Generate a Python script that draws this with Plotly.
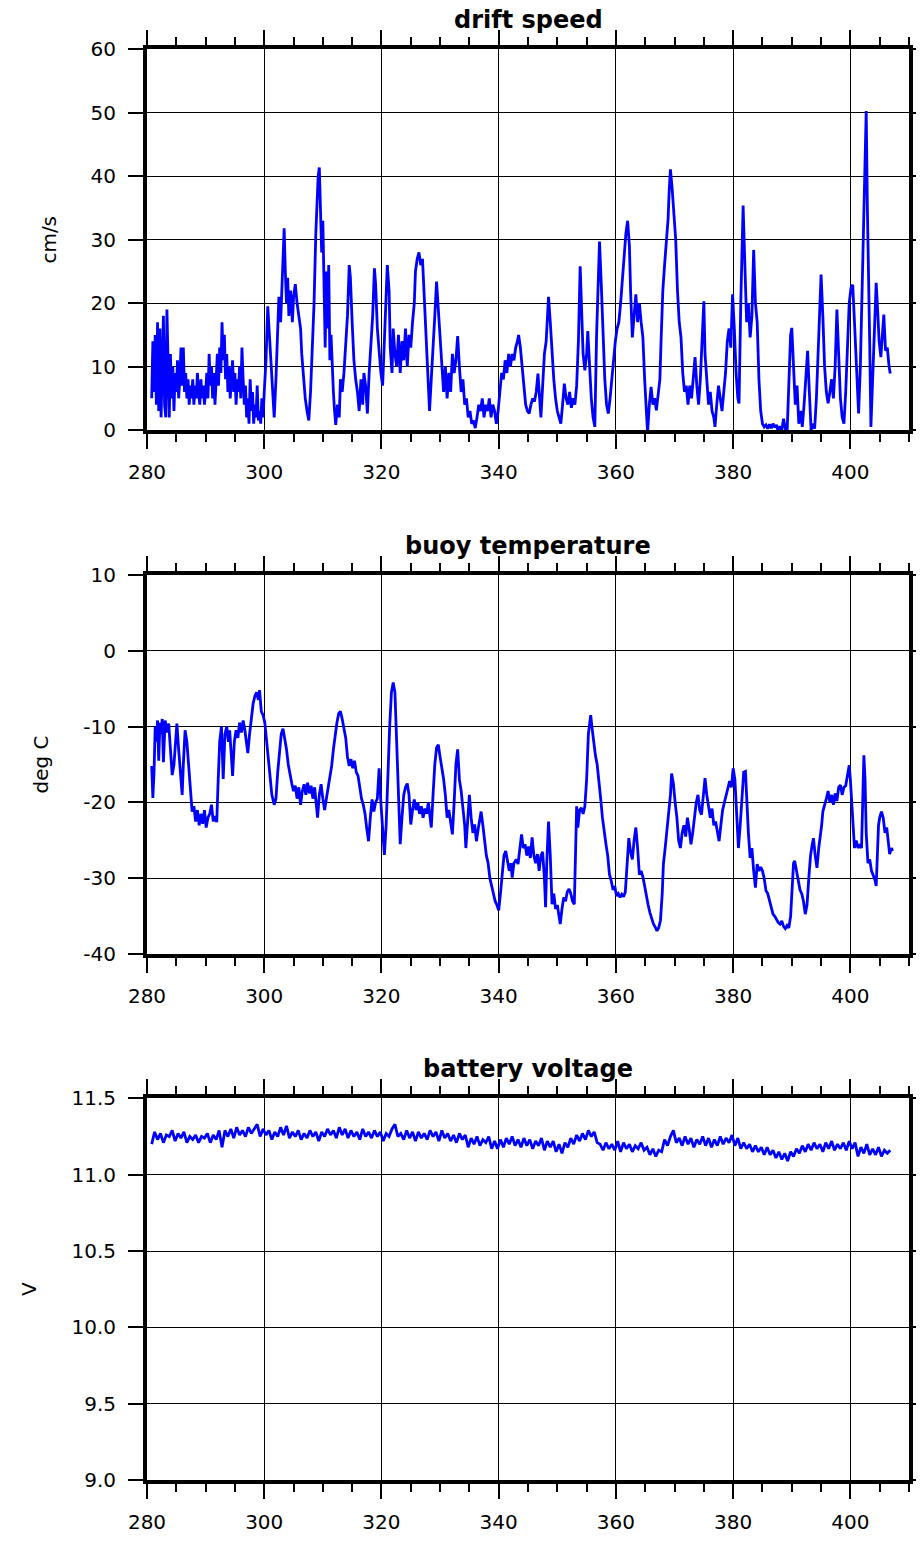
import plotly.graph_objects as go

# ---------------------------------------------------------------- data
# drift speed (cm/s) against day of year
drift_day = [
    280.8, 281.0, 281.2, 281.4, 281.6, 281.8, 282.0, 282.2, 282.4, 282.6, 282.8, 283.0, 283.2, 283.4, 283.6,
    283.8, 284.0, 284.2, 284.4, 284.6, 284.8, 285.0, 285.2, 285.4, 285.6, 285.8, 286.0, 286.2, 286.4, 286.6,
    286.8, 287.0, 287.2, 287.4, 287.6, 287.8, 288.0, 288.2, 288.4, 288.6, 288.8, 289.0, 289.2, 289.4, 289.6,
    289.8, 290.0, 290.2, 290.4, 290.6, 290.8, 291.0, 291.2, 291.4, 291.6, 291.8, 292.0, 292.2, 292.4, 292.6,
    292.8, 293.0, 293.2, 293.4, 293.6, 293.8, 294.0, 294.2, 294.4, 294.6, 294.8, 295.0, 295.2, 295.4, 295.6,
    295.8, 296.0, 296.2, 296.4, 296.6, 296.8, 297.0, 297.2, 297.4, 297.6, 297.8, 298.0, 298.2, 298.4, 298.6,
    298.8, 299.0, 299.2, 299.4, 299.6, 299.8, 300.0, 300.3, 300.6, 300.9, 301.2, 301.5, 301.7, 302.0, 302.2,
    302.5, 302.8, 303.0, 303.2, 303.4, 303.6, 303.8, 304.0, 304.2, 304.5, 304.8, 305.0, 305.3, 305.6, 305.9,
    306.2, 306.4, 306.7, 307.0, 307.3, 307.6, 307.9, 308.2, 308.5, 308.8, 309.0, 309.2, 309.4, 309.6, 309.8,
    310.0, 310.2, 310.4, 310.6, 310.8, 311.0, 311.2, 311.4, 311.6, 311.8, 312.0, 312.2, 312.5, 312.8, 313.0,
    313.3, 313.6, 313.9, 314.2, 314.5, 314.7, 315.0, 315.3, 315.6, 315.9, 316.2, 316.5, 316.8, 317.0, 317.3,
    317.6, 317.9, 318.2, 318.5, 318.8, 319.0, 319.3, 319.6, 319.9, 320.2, 320.5, 320.8, 321.0, 321.3, 321.5,
    321.8, 322.0, 322.3, 322.6, 322.9, 323.2, 323.5, 323.8, 324.1, 324.4, 324.7, 325.0, 325.3, 325.6, 325.8,
    326.1, 326.4, 326.7, 327.0, 327.3, 327.6, 327.9, 328.2, 328.5, 328.8, 329.1, 329.4, 329.7, 330.0, 330.3,
    330.6, 330.9, 331.2, 331.5, 331.8, 332.1, 332.4, 332.7, 333.0, 333.3, 333.6, 333.9, 334.2, 334.5, 334.8,
    335.1, 335.4, 335.7, 336.0, 336.3, 336.6, 336.9, 337.2, 337.5, 337.8, 338.1, 338.4, 338.7, 339.0, 339.3,
    339.6, 339.9, 340.2, 340.5, 340.8, 341.1, 341.4, 341.7, 342.0, 342.3, 342.6, 342.9, 343.2, 343.4, 343.7,
    344.0, 344.3, 344.6, 344.9, 345.2, 345.5, 345.8, 346.1, 346.4, 346.7, 347.0, 347.2, 347.5, 347.8, 348.1,
    348.3, 348.5, 348.8, 349.1, 349.4, 349.7, 350.0, 350.3, 350.6, 350.9, 351.2, 351.5, 351.8, 352.1, 352.4,
    352.7, 353.0, 353.3, 353.6, 353.9, 354.2, 354.4, 354.7, 355.0, 355.2, 355.5, 355.8, 356.1, 356.4, 356.7,
    357.0, 357.2, 357.5, 357.8, 358.1, 358.4, 358.7, 359.0, 359.3, 359.6, 359.9, 360.2, 360.5, 360.8, 361.1,
    361.4, 361.7, 362.0, 362.3, 362.5, 362.8, 363.1, 363.4, 363.7, 364.0, 364.3, 364.6, 364.9, 365.2, 365.4,
    365.7, 366.0, 366.3, 366.6, 366.9, 367.2, 367.5, 367.7, 368.0, 368.3, 368.6, 368.9, 369.1, 369.3, 369.6,
    369.9, 370.2, 370.5, 370.8, 371.1, 371.4, 371.7, 372.0, 372.3, 372.6, 372.9, 373.2, 373.5, 373.8, 374.1,
    374.4, 374.7, 375.0, 375.2, 375.5, 375.8, 376.1, 376.4, 376.7, 376.9, 377.2, 377.5, 377.8, 378.1, 378.4,
    378.7, 379.0, 379.3, 379.6, 379.9, 380.2, 380.5, 380.8, 381.0, 381.3, 381.7, 382.0, 382.3, 382.6, 382.9,
    383.2, 383.5, 383.8, 384.1, 384.4, 384.7, 385.0, 385.3, 385.6, 385.9, 386.2, 386.5, 386.8, 387.1, 387.4,
    387.7, 388.0, 388.3, 388.6, 388.9, 389.2, 389.5, 389.8, 390.0, 390.3, 390.6, 390.9, 391.2, 391.5, 391.8,
    392.1, 392.4, 392.7, 393.0, 393.3, 393.6, 393.9, 394.2, 394.5, 394.8, 395.0, 395.3, 395.6, 395.9, 396.2,
    396.5, 396.8, 397.1, 397.4, 397.7, 398.0, 398.3, 398.6, 398.9, 399.2, 399.5, 399.8, 400.1, 400.4, 400.7,
    401.0, 401.4, 401.7, 402.0, 402.2, 402.4, 402.7, 402.9, 403.1, 403.3, 403.5, 403.8, 404.1, 404.4, 404.7,
    404.9, 405.2, 405.5, 405.7, 406.0, 406.3, 406.6, 406.8,
]
drift_speed = [
    5, 14, 6, 15, 4, 17, 3, 16, 2, 11, 18, 4, 2, 19, 8,
    2, 12, 5, 10, 3, 9, 6, 11, 5, 8, 13, 7, 13, 6, 9,
    5, 8, 4, 7, 5, 8, 4, 7, 5, 9, 6, 4, 8, 5, 7,
    4, 6, 9, 5, 12, 7, 10, 5, 9, 4, 8, 12, 7, 13, 9,
    17, 11, 15, 8, 12, 6, 10, 5, 8, 11, 6, 9, 4, 8, 6,
    10, 5, 13, 8, 4, 7, 2, 5, 1, 8, 3, 6, 1, 4, 2,
    7, 1.5, 3, 1, 5, 2, 6, 11, 19.5, 15, 9, 5, 2, 8, 14,
    21, 17, 23, 27, 31.8, 25, 20, 24, 18, 22, 17, 21, 23, 20, 18,
    16, 12, 8, 5, 3, 1.5, 6, 12, 20, 31, 36, 40, 41.4, 35, 28,
    33, 20, 13, 25, 16, 26, 11, 15, 9, 6, 3, 0.8, 4, 2, 8,
    6, 9, 13, 18, 26, 24, 17, 11, 8, 6, 3, 8, 4, 9, 7,
    2.6, 9, 14, 18, 25.5, 23, 16, 12, 9, 7, 14, 20, 26, 22, 13,
    9, 16, 12, 10, 15, 9, 14, 11, 16, 10, 15, 13, 17, 20, 25,
    27, 28, 26, 27, 21, 16, 10, 3, 8, 14, 18, 23.4, 19, 13, 9,
    6, 10, 5, 9, 6, 12, 9, 11, 14.8, 10, 6, 8, 4, 5, 2,
    3, 1, 1.5, 0.3, 2, 4, 3, 5, 2, 4, 3, 5, 2, 4, 3,
    1, 3, 6, 9, 8, 11, 9, 12, 10, 12, 11, 13, 14, 15, 13,
    10, 7, 4, 3, 2.6, 4, 5, 4.5, 6, 8.9, 5, 2, 7, 12, 14,
    17, 21, 17, 12, 8, 5, 3, 2, 1, 4, 7.3, 5, 4, 6, 3.5,
    5, 4, 7, 14, 25.8, 18, 12, 9.4, 12, 15.6, 10, 5, 2, 0.5, 15,
    25, 29.7, 23, 14, 8, 4, 2.6, 5, 8, 12, 14, 16, 17, 20, 24,
    27, 31, 33, 29, 22, 14.6, 18, 21.4, 17, 20, 17, 14.6, 8, 2, -0.5,
    4, 6.8, 4, 5, 3.1, 6, 8, 14, 22, 26, 30, 33.3, 38, 41.1, 38,
    33, 30, 22, 17, 14.6, 9, 6, 7, 4, 7, 5, 9, 11.5, 7, 4,
    8, 14, 20.3, 12, 7, 4, 6, 3, 2, 0.5, 4, 7, 5, 3, 6,
    9, 14, 16, 13, 21.4, 16, 9, 5, 4.2, 20, 35.4, 26, 17, 20, 14.6,
    18, 28.4, 20, 17, 8, 3, 1, 0.5, 0.8, 0.2, 0.9, 0.3, 1, 0.4, 0.8,
    -0.3, 0.6, 0, 1.8, 0.2, -0.5, 8, 15, 16.1, 10, 4, 7, 1, 3, 0.5,
    4, 8, 12.5, 6, 0, 1, 0.2, 5, 12, 20, 24.5, 18, 10, 6, 4.2,
    6, 8, 5, 10, 19, 12, 5, 2, 1, 6, 14, 20, 22.4, 22.9, 17,
    10, 2.6, 10, 22, 27.6, 40, 50.3, 35, 20, 13.5, 0.5, 8, 15, 23.2, 18,
    14, 11.5, 15, 18.2, 12.5, 13, 10, 8.9,
]

# buoy temperature (deg C) against day of year
temp_day = [
    280.8, 281.0, 281.2, 281.4, 281.6, 281.8, 282.0, 282.2, 282.4, 282.6, 282.8, 283.1, 283.4, 283.7, 284.0,
    284.3, 284.6, 284.9, 285.1, 285.4, 285.7, 286.0, 286.2, 286.5, 286.8, 287.1, 287.4, 287.7, 288.0, 288.3,
    288.6, 288.9, 289.2, 289.5, 289.8, 290.1, 290.4, 290.7, 291.0, 291.3, 291.6, 291.9, 292.1, 292.4, 292.7,
    293.0, 293.3, 293.6, 293.9, 294.1, 294.4, 294.6, 294.9, 295.2, 295.5, 295.8, 296.1, 296.4, 296.7, 297.0,
    297.2, 297.5, 297.8, 298.1, 298.4, 298.7, 299.0, 299.2, 299.5, 299.8, 300.1, 300.4, 300.7, 301.0, 301.3,
    301.7, 302.0, 302.3, 302.6, 302.9, 303.2, 303.5, 303.8, 304.1, 304.4, 304.7, 305.0, 305.3, 305.6, 305.9,
    306.2, 306.5, 306.8, 307.1, 307.4, 307.7, 308.0, 308.3, 308.6, 308.9, 309.1, 309.4, 309.7, 310.0, 310.3,
    310.6, 310.9, 311.2, 311.5, 311.8, 312.1, 312.4, 312.7, 313.0, 313.3, 313.6, 313.9, 314.2, 314.5, 314.8,
    315.1, 315.4, 315.7, 316.0, 316.3, 316.6, 316.9, 317.2, 317.5, 317.8, 318.1, 318.4, 318.7, 319.0, 319.3,
    319.6, 319.9, 320.2, 320.5, 320.8, 321.1, 321.4, 321.7, 322.0, 322.3, 322.6, 322.9, 323.2, 323.5, 323.8,
    324.1, 324.4, 324.7, 325.0, 325.3, 325.6, 325.9, 326.2, 326.5, 326.8, 327.1, 327.4, 327.7, 328.0, 328.3,
    328.5, 328.8, 329.1, 329.4, 329.7, 330.0, 330.3, 330.6, 330.9, 331.2, 331.5, 331.8, 332.1, 332.4, 332.7,
    333.0, 333.3, 333.6, 333.9, 334.2, 334.4, 334.7, 335.0, 335.3, 335.6, 335.9, 336.2, 336.5, 336.8, 337.0,
    337.3, 337.6, 337.9, 338.2, 338.5, 338.8, 339.1, 339.4, 339.7, 340.0, 340.3, 340.6, 340.9, 341.2, 341.5,
    341.8, 342.1, 342.3, 342.6, 343.0, 343.3, 343.6, 343.9, 344.2, 344.5, 344.8, 345.1, 345.4, 345.7, 346.0,
    346.3, 346.6, 346.9, 347.2, 347.5, 347.8, 348.0, 348.2, 348.5, 348.8, 349.1, 349.4, 349.7, 350.0, 350.3,
    350.5, 350.8, 351.1, 351.4, 351.7, 352.0, 352.3, 352.6, 352.9, 353.1, 353.3, 353.5, 353.8, 354.1, 354.4,
    354.7, 355.0, 355.3, 355.5, 355.7, 355.9, 356.2, 356.5, 356.8, 357.1, 357.4, 357.7, 358.0, 358.3, 358.6,
    358.9, 359.2, 359.5, 359.8, 360.1, 360.4, 360.7, 361.0, 361.3, 361.6, 361.9, 362.2, 362.5, 362.8, 363.1,
    363.4, 363.7, 364.0, 364.3, 364.6, 364.9, 365.2, 365.5, 365.8, 366.1, 366.4, 366.7, 367.0, 367.3, 367.6,
    367.9, 368.1, 368.4, 368.7, 369.0, 369.3, 369.5, 369.8, 370.1, 370.4, 370.7, 371.0, 371.3, 371.6, 371.9,
    372.2, 372.5, 372.8, 373.1, 373.4, 373.7, 374.0, 374.3, 374.6, 374.9, 375.2, 375.5, 375.8, 376.1, 376.4,
    376.7, 377.0, 377.3, 377.6, 377.9, 378.2, 378.5, 378.8, 379.1, 379.4, 379.7, 380.0, 380.3, 380.6, 380.9,
    381.2, 381.5, 381.8, 382.1, 382.3, 382.6, 382.9, 383.2, 383.5, 383.8, 384.1, 384.4, 384.7, 385.0, 385.3,
    385.6, 385.9, 386.2, 386.5, 386.8, 387.1, 387.4, 387.7, 388.0, 388.3, 388.6, 388.9, 389.2, 389.5, 389.8,
    390.0, 390.3, 390.5, 390.8, 391.1, 391.4, 391.7, 392.0, 392.3, 392.6, 392.9, 393.2, 393.5, 393.7, 394.0,
    394.3, 394.6, 394.9, 395.1, 395.3, 395.6, 395.9, 396.2, 396.5, 396.8, 397.1, 397.4, 397.7, 398.0, 398.3,
    398.6, 398.9, 399.2, 399.5, 399.8, 400.0, 400.2, 400.5, 400.7, 401.0, 401.3, 401.6, 401.9, 402.1, 402.3,
    402.5, 402.7, 403.0, 403.3, 403.6, 403.9, 404.2, 404.4, 404.6, 404.8, 405.0, 405.3, 405.6, 405.9, 406.2,
    406.5, 406.7, 407.0, 407.2,
]
temp_degc = [
    -15.2, -19.4, -16, -10, -12, -9.2, -14.5, -9.5, -11, -9, -14.7, -9.2, -10.8, -9.6, -13,
    -16.4, -15, -11, -9.6, -13, -16, -19, -15, -10.5, -12, -15, -18, -21.2, -20.5, -22.5,
    -21, -23, -21.5, -22.8, -21, -23.3, -22, -21.5, -20.3, -22.5, -21.8, -22.6, -18, -12, -10,
    -16.9, -11, -10, -12, -10.5, -14, -16.5, -12, -10.5, -11.5, -9.5, -10.8, -9.2, -10.5, -12,
    -13.5, -11, -9, -7, -6, -5.5, -6.5, -5.2, -8, -8.5, -9.5, -12, -15, -17.5, -19,
    -20.3, -19.5, -16, -13, -11, -10.3, -11.5, -13, -15, -16.5, -17.5, -18.5, -17.8, -19.5, -18,
    -20.3, -18.5, -17.6, -19, -17.4, -18.8, -17.8, -19.5, -18, -21, -22, -19, -17.6, -19.5, -21,
    -19.5, -18, -16.5, -15.2, -13, -11, -9.5, -8.3, -8, -9, -10.5, -11.5, -14, -15.2, -14.3,
    -15.5, -14.5, -16, -16.5, -18, -19.5, -20.3, -21.5, -23.5, -25.1, -22, -19.6, -21.2, -20, -19.5,
    -15.5, -20, -24, -26.9, -23, -16, -10, -5.5, -4.2, -5.5, -12, -20, -25.5, -22, -19,
    -18, -17.5, -19, -22.9, -21, -19.6, -21, -20, -21.5, -20.5, -22, -20.8, -21.5, -20, -22,
    -23.3, -19, -15, -12.8, -12.4, -14, -15.2, -16.9, -19, -22, -21, -23, -24.2, -20, -15,
    -13, -17, -18.5, -21, -23, -26, -22, -19, -22, -24, -22.9, -25.1, -23.5, -22, -21.2,
    -23, -25.5, -27, -28, -30, -31, -32, -33, -33.5, -34.2, -32, -29.5, -27, -26.4, -28,
    -29, -28, -29.9, -28, -27.5, -28.1, -26, -24.2, -26, -25.5, -27, -25.8, -27.3, -24.6, -27,
    -28, -26.8, -29, -27, -26.5, -30, -33.8, -28, -22.5, -27, -33.4, -32, -34, -33.5, -35,
    -36, -34, -32.5, -33, -31.8, -31.4, -32, -33, -33.4, -27, -20.5, -23.3, -21, -20.7, -21.5,
    -20.5, -17, -11, -9.5, -8.5, -10, -12, -13.8, -15, -17, -19.5, -22, -24, -25.5, -27,
    -29.5, -30.3, -31.5, -31, -32.3, -32, -32.5, -32.1, -32.4, -31.8, -28, -24.7, -26.5, -27.5, -25,
    -23.3, -26, -29.5, -29, -29.8, -31, -32.5, -33.5, -34.5, -35.3, -36, -36.4, -36.9, -36.5, -35.5,
    -32, -28.1, -26, -23.8, -21.5, -19, -16.2, -17.5, -20, -22, -25, -26, -24, -23, -24.5,
    -22, -23.5, -25.5, -24, -22, -20, -19, -21, -21.6, -19, -16.8, -19, -20.3, -22, -20.8,
    -23, -22.5, -24, -25.1, -23, -21, -20, -19, -18, -17.2, -18, -15.5, -17, -22, -26,
    -23, -19, -16, -15.9, -20, -24, -27.3, -26, -29, -31.2, -28.1, -29, -28.5, -29, -30,
    -31.6, -32, -33, -33.8, -34.7, -35, -35.5, -35.8, -36, -35.6, -36.3, -36.6, -36.2, -36.5, -35,
    -32, -28, -27.7, -29, -30.5, -31.5, -32, -33, -34.7, -33.5, -30, -27, -25.5, -24.7, -27,
    -28.6, -26, -24.5, -23, -21.2, -20.5, -19.5, -18.5, -20, -19, -20.3, -18.8, -19.8, -18, -17.7,
    -19, -18, -17.8, -16.5, -15.1, -17, -19.4, -23, -26, -25, -26, -25.5, -26, -20, -13.8,
    -17, -24, -28, -27.5, -29, -29.5, -30.2, -31, -27, -23, -22, -21.2, -22, -24, -23.3,
    -25, -26.8, -26, -26.4,
]

# battery voltage (V) against day of year
battery_day = [
    280.8, 281.3, 281.8, 282.3, 282.8, 283.3, 283.8, 284.3, 284.8, 285.3, 285.8, 286.3, 286.8, 287.3, 287.8,
    288.3, 288.8, 289.3, 289.8, 290.3, 290.8, 291.3, 291.8, 292.3, 292.8, 293.3, 293.8, 294.3, 294.8, 295.3,
    295.8, 296.3, 296.8, 297.3, 297.8, 298.3, 298.8, 299.3, 299.8, 300.3, 300.8, 301.3, 301.8, 302.3, 302.8,
    303.3, 303.8, 304.3, 304.8, 305.3, 305.8, 306.3, 306.8, 307.3, 307.8, 308.3, 308.8, 309.3, 309.8, 310.3,
    310.8, 311.3, 311.8, 312.3, 312.8, 313.3, 313.8, 314.3, 314.8, 315.3, 315.8, 316.3, 316.8, 317.3, 317.8,
    318.3, 318.8, 319.3, 319.8, 320.3, 320.8, 321.3, 321.8, 322.3, 322.8, 323.3, 323.8, 324.3, 324.8, 325.3,
    325.8, 326.3, 326.8, 327.3, 327.8, 328.3, 328.8, 329.3, 329.8, 330.3, 330.8, 331.3, 331.8, 332.3, 332.8,
    333.3, 333.8, 334.3, 334.8, 335.3, 335.8, 336.3, 336.8, 337.3, 337.8, 338.3, 338.8, 339.3, 339.8, 340.3,
    340.8, 341.3, 341.8, 342.3, 342.8, 343.3, 343.8, 344.3, 344.8, 345.3, 345.8, 346.3, 346.8, 347.3, 347.8,
    348.3, 348.8, 349.3, 349.8, 350.3, 350.8, 351.3, 351.8, 352.3, 352.8, 353.3, 353.8, 354.3, 354.8, 355.3,
    355.8, 356.3, 356.8, 357.3, 357.8, 358.3, 358.8, 359.3, 359.8, 360.3, 360.8, 361.3, 361.8, 362.3, 362.8,
    363.3, 363.8, 364.3, 364.8, 365.3, 365.8, 366.3, 366.8, 367.3, 367.8, 368.3, 368.8, 369.3, 369.8, 370.3,
    370.8, 371.3, 371.8, 372.3, 372.8, 373.3, 373.8, 374.3, 374.8, 375.3, 375.8, 376.3, 376.8, 377.3, 377.8,
    378.3, 378.8, 379.3, 379.8, 380.3, 380.8, 381.3, 381.8, 382.3, 382.8, 383.3, 383.8, 384.3, 384.8, 385.3,
    385.8, 386.3, 386.8, 387.3, 387.8, 388.3, 388.8, 389.3, 389.8, 390.3, 390.8, 391.3, 391.8, 392.3, 392.8,
    393.3, 393.8, 394.3, 394.8, 395.3, 395.8, 396.3, 396.8, 397.3, 397.8, 398.3, 398.8, 399.3, 399.8, 400.3,
    400.8, 401.3, 401.8, 402.3, 402.8, 403.3, 403.8, 404.3, 404.8, 405.3, 405.8, 406.3, 406.8,
]
battery_volts = [
    11.20, 11.28, 11.23, 11.27, 11.21, 11.26, 11.25, 11.29, 11.22, 11.27, 11.24, 11.28, 11.21, 11.25, 11.23,
    11.26, 11.21, 11.25, 11.24, 11.27, 11.21, 11.26, 11.23, 11.29, 11.18, 11.29, 11.25, 11.30, 11.24, 11.31,
    11.26, 11.29, 11.25, 11.31, 11.27, 11.30, 11.33, 11.25, 11.30, 11.26, 11.29, 11.23, 11.28, 11.25, 11.31,
    11.26, 11.32, 11.24, 11.28, 11.25, 11.29, 11.23, 11.27, 11.24, 11.29, 11.25, 11.28, 11.22, 11.28, 11.25,
    11.30, 11.26, 11.29, 11.24, 11.31, 11.26, 11.30, 11.24, 11.29, 11.25, 11.28, 11.23, 11.30, 11.25, 11.28,
    11.24, 11.29, 11.25, 11.28, 11.22, 11.27, 11.25, 11.30, 11.33, 11.25, 11.27, 11.23, 11.29, 11.24, 11.28,
    11.22, 11.28, 11.24, 11.27, 11.23, 11.29, 11.25, 11.28, 11.22, 11.29, 11.24, 11.27, 11.22, 11.26, 11.21,
    11.27, 11.23, 11.26, 11.18, 11.24, 11.20, 11.25, 11.19, 11.23, 11.21, 11.25, 11.17, 11.22, 11.17, 11.23,
    11.18, 11.24, 11.20, 11.25, 11.19, 11.23, 11.18, 11.24, 11.19, 11.23, 11.17, 11.22, 11.19, 11.24, 11.16,
    11.22, 11.18, 11.22, 11.15, 11.20, 11.14, 11.21, 11.18, 11.24, 11.20, 11.26, 11.22, 11.27, 11.23, 11.29,
    11.25, 11.28, 11.21, 11.20, 11.16, 11.21, 11.17, 11.20, 11.16, 11.22, 11.15, 11.21, 11.17, 11.20, 11.15,
    11.19, 11.17, 11.21, 11.16, 11.18, 11.13, 11.17, 11.12, 11.16, 11.15, 11.23, 11.19, 11.25, 11.29, 11.21,
    11.24, 11.19, 11.25, 11.20, 11.24, 11.18, 11.23, 11.20, 11.25, 11.19, 11.24, 11.18, 11.23, 11.19, 11.25,
    11.20, 11.24, 11.21, 11.26, 11.19, 11.24, 11.17, 11.21, 11.17, 11.20, 11.15, 11.19, 11.15, 11.18, 11.13,
    11.18, 11.13, 11.16, 11.11, 11.15, 11.10, 11.14, 11.09, 11.15, 11.12, 11.17, 11.14, 11.19, 11.15, 11.20,
    11.16, 11.21, 11.17, 11.20, 11.15, 11.21, 11.17, 11.22, 11.16, 11.20, 11.17, 11.21, 11.16, 11.22, 11.17,
    11.21, 11.12, 11.18, 11.14, 11.20, 11.13, 11.17, 11.13, 11.18, 11.12, 11.16, 11.14, 11.16,
]

panel_titles = ["drift speed", "buoy temperature", "battery voltage"]
unit_labels = ["cm/s", "deg C", "V"]
x_range = [280, 410]
x_tick_days = [280, 300, 320, 340, 360, 380, 400]

y_ranges = [[0, 60], [-40, 10], [9.0, 11.5]]
drift_ticks = [0, 10, 20, 30, 40, 50, 60]
temp_ticks = [-40, -30, -20, -10, 0, 10]
battery_ticks = [9.0, 9.5, 10.0, 10.5, 11.0, 11.5]
drift_tick_text = ["0", "10", "20", "30", "40", "50", "60"]
temp_tick_text = ["-40", "-30", "-20", "-10", "0", "10"]
battery_tick_text = ["9.0", "9.5", "10.0", "10.5", "11.0", "11.5"]

# ---------------------------------------------------------------- styling
FONT = "DejaVu Sans, Verdana, sans-serif"
LINE_BLUE = "#0000ff"
W, H = 924, 1543
M_LEFT, M_RIGHT, M_TOP, M_BOTTOM = 147, 9, 49, 53
# vertical extents of the three frames, in page pixels (top, bottom)
frames_px = [(49.5, 432.7), (578.3, 960.7), (1105.7, 1490.0)]
plot_h = H - M_TOP - M_BOTTOM


def to_domain(top_px, bottom_px):
    lo = (H - M_BOTTOM - bottom_px) / plot_h
    hi = (H - M_BOTTOM - top_px) / plot_h
    return [max(0.0, min(1.0, lo)), max(0.0, min(1.0, hi))]


fig = go.Figure()

series = [
    (drift_day, drift_speed),
    (temp_day, temp_degc),
    (battery_day, battery_volts),
]
y_ticks = [
    (drift_ticks, drift_tick_text),
    (temp_ticks, temp_tick_text),
    (battery_ticks, battery_tick_text),
]

for i, (xs, ys) in enumerate(series):
    n = "" if i == 0 else str(i + 1)
    fig.add_trace(go.Scatter(
        x=xs, y=ys, mode="lines",
        line=dict(color=LINE_BLUE, width=2.8),
        xaxis="x" + n, yaxis="y" + n, showlegend=False, hoverinfo="skip",
    ))
    # empty trace that carries the short right-hand tick axis
    fig.add_trace(go.Scatter(
        x=[], y=[], mode="lines", xaxis="x" + n, yaxis="y" + str(i + 4),
        showlegend=False, hoverinfo="skip",
    ))

layout = dict(
    width=W, height=H,
    margin=dict(l=M_LEFT, r=M_RIGHT, t=M_TOP, b=M_BOTTOM, pad=0),
    paper_bgcolor="white", plot_bgcolor="white",
    font=dict(family=FONT, size=20, color="black"),
    showlegend=False,
    annotations=[],
)

for i in range(3):
    n = "" if i == 0 else str(i + 1)
    dom = to_domain(*frames_px[i])
    tvals, ttext = y_ticks[i]
    layout["xaxis" + n] = dict(
        domain=[0, 1], anchor="y" + n, range=x_range,
        tickmode="array", tickvals=x_tick_days,
        ticktext=[str(d) for d in x_tick_days],
        ticks="outside", ticklen=15, tickwidth=1.6, tickcolor="black",
        showline=True, linecolor="black", linewidth=4, mirror="ticks",
        showgrid=True, gridcolor="black", gridwidth=1, zeroline=False,
        ticklabelstandoff=6,
        tickfont=dict(family=FONT, size=20, color="black"),
        minor=dict(tick0=280, dtick=5, ticks="outside", ticklen=8,
                   tickwidth=1.6, tickcolor="black", showgrid=False),
    )
    layout["yaxis" + n] = dict(
        domain=dom, anchor="x" + n, range=y_ranges[i],
        tickmode="array", tickvals=tvals, ticktext=ttext,
        ticks="outside", ticklen=15, tickwidth=1.6, tickcolor="black",
        showline=True, linecolor="black", linewidth=4, mirror=True,
        showgrid=True, gridcolor="black", gridwidth=1, zeroline=False,
        ticklabelstandoff=8,
        tickfont=dict(family=FONT, size=20, color="black"),
        title=dict(text=unit_labels[i], standoff=30,
                   font=dict(family=FONT, size=20, color="black")),
    )
    layout["yaxis" + str(i + 4)] = dict(
        overlaying="y" + n, anchor="x" + n, side="right",
        range=y_ranges[i], tickmode="array", tickvals=tvals,
        ticks="outside", ticklen=6, tickwidth=1.6, tickcolor="black",
        showticklabels=False, showgrid=False, showline=False, zeroline=False,
    )
    layout["annotations"].append(dict(
        text="<b>" + panel_titles[i] + "</b>",
        xref="x" + n + " domain", yref="y" + n + " domain",
        x=0.5, y=1, xanchor="center", yanchor="bottom", yshift=13,
        showarrow=False, font=dict(family=FONT, size=24, color="black"),
    ))

fig.update_layout(**layout)
fig.write_html("out.html")
